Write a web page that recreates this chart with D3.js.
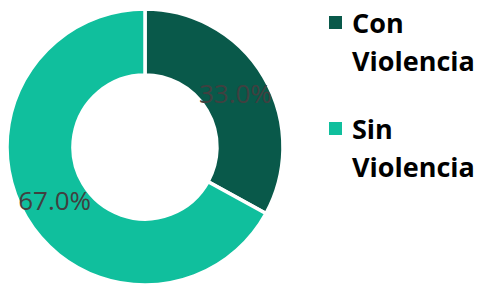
<!DOCTYPE html>
<html>
<head>
<meta charset="utf-8">
<script src="https://cdn.jsdelivr.net/npm/d3@7"></script>
<style>
  body { margin: 0; background: #fff; }
  svg { display: block; }
</style>
</head>
<body>
<script>
const categories = ['Con Violencia', 'Sin Violencia']
const legendLines = [['Con', 'Violencia'], ['Sin', 'Violencia']]
const values = [33.0, 67.0]

const width = 478
const height = 285
const colors = ['#09594A', '#10BF9D']
const cx = 145, cy = 147
const outerR = 138, innerR = 72

const svg = d3.select('body')
  .append('svg')
  .attr('width', width)
  .attr('height', height)

const pie = d3.pie().sort(null).value(d => d)
const arc = d3.arc().innerRadius(innerR).outerRadius(outerR)
const color = d3.scaleOrdinal().domain(categories).range(colors)

const donut = svg.append('g')
  .attr('transform', `translate(${cx},${cy})`)

const arcs = pie(values)

donut.selectAll('path')
  .data(arcs)
  .enter()
  .append('path')
  .attr('d', arc)
  .attr('fill', (d, i) => color(categories[i]))
  .attr('stroke', '#fff')
  .attr('stroke-width', 3.5)

// percent labels sit on the middle of the ring
const labelArc = d3.arc().innerRadius((innerR + outerR) / 2).outerRadius((innerR + outerR) / 2)
donut.selectAll('text.pct')
  .data(arcs)
  .enter()
  .append('text')
  .attr('class', 'pct')
  .attr('transform', d => `translate(${labelArc.centroid(d)})`)
  .attr('text-anchor', 'middle')
  .attr('dy', '0.36em')
  .attr('font-family', 'Open Sans')
  .attr('font-size', '26px')
  .attr('fill', '#404040')
  .text(d => d3.format('.1f')(d.data) + '%')

// legend
const legend = svg.append('g')
  .attr('transform', 'translate(329, 0)')

const rowY = [16, 122]
categories.forEach((c, i) => {
  const row = legend.append('g')
    .attr('transform', `translate(0, ${rowY[i]})`)
  row.append('rect')
    .attr('width', 13)
    .attr('height', 13)
    .attr('fill', color(c))
  row.append('text')
    .attr('x', 23)
    .attr('y', 17)
    .attr('font-family', 'Open Sans')
    .attr('font-weight', 'bold')
    .attr('font-size', '27px')
    .attr('fill', '#000')
    .selectAll('tspan')
    .data(legendLines[i])
    .enter()
    .append('tspan')
    .attr('x', 23)
    .attr('dy', (d, k) => k === 0 ? 0 : 38)
    .text(d => d)
})
</script>
</body>
</html>
